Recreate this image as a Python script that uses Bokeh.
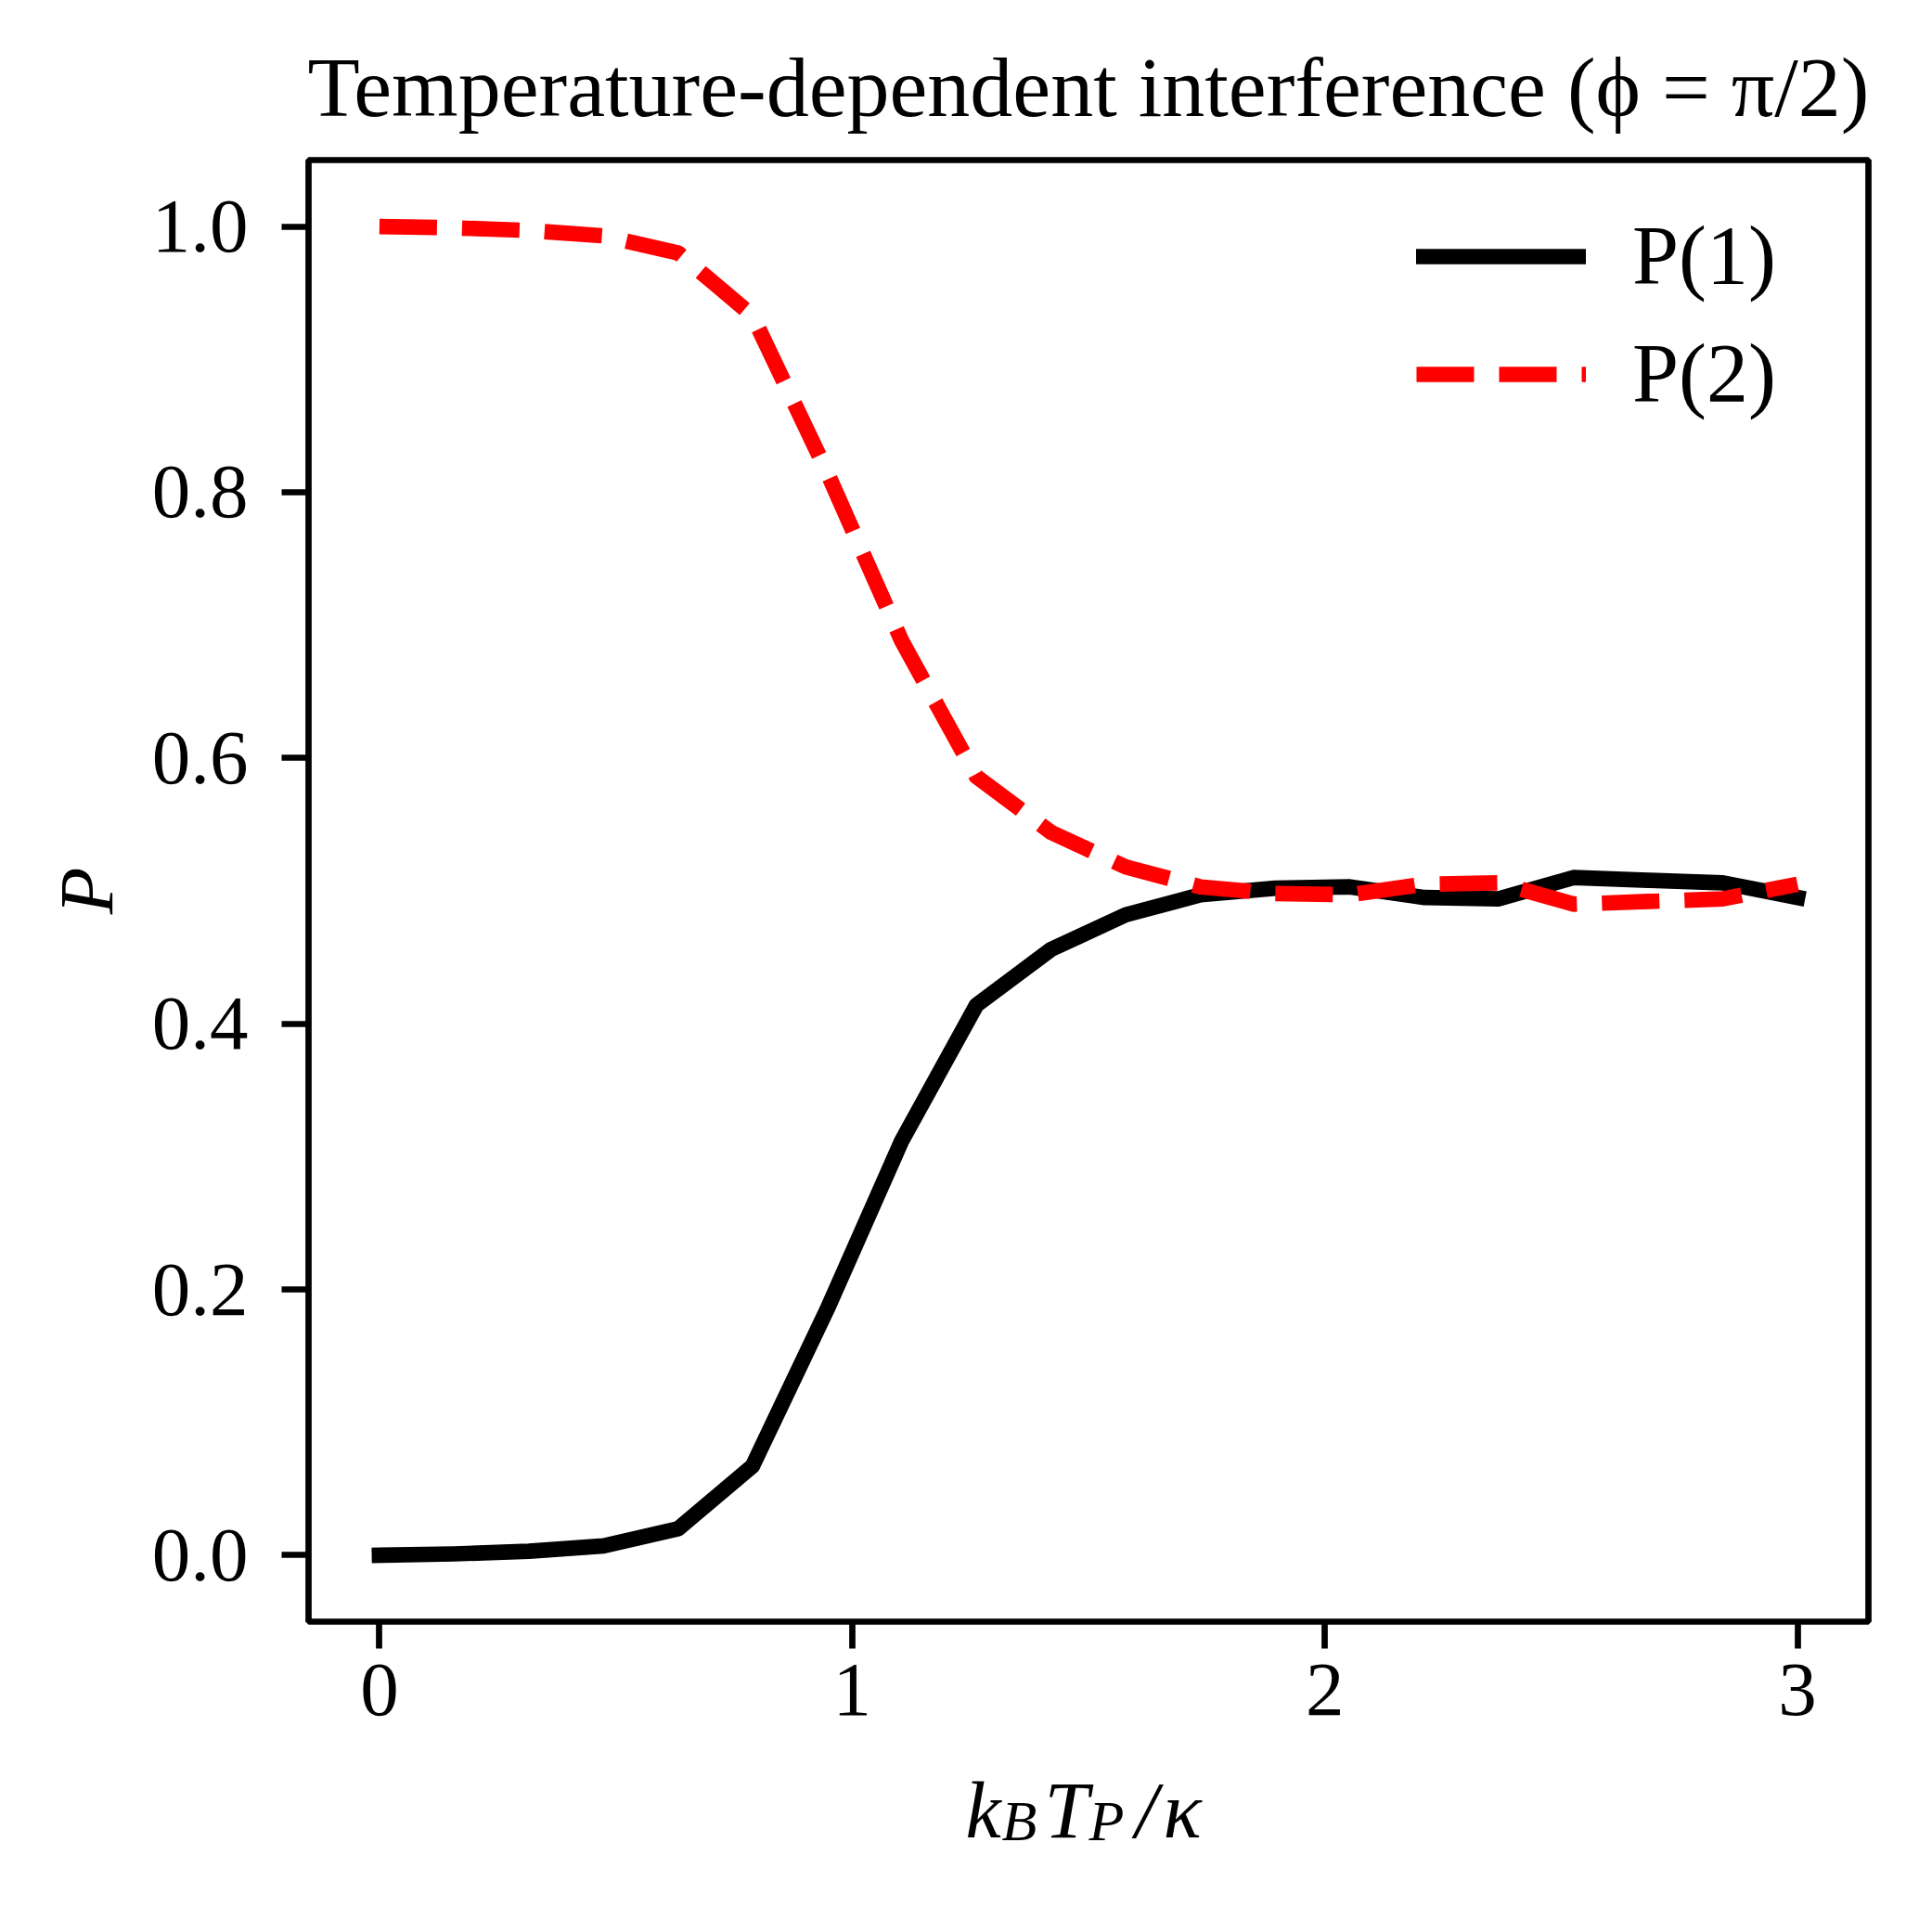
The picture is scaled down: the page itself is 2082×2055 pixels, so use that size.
from bokeh.plotting import figure
from bokeh.models import FixedTicker, PrintfTickFormatter, Range1d
from bokeh.layouts import column
from bokeh.core.properties import value
from bokeh.embed import file_html
from bokeh.resources import INLINE

# ---- data ----
x_vals = [0.000, 0.158, 0.316, 0.474, 0.632, 0.789, 0.947, 1.105, 1.263, 1.421,
          1.579, 1.737, 1.895, 2.053, 2.211, 2.368, 2.526, 2.684, 2.842, 3.000]
p1_vals = [0.000, 0.001, 0.003, 0.007, 0.020, 0.067, 0.185, 0.312, 0.414, 0.456,
           0.482, 0.497, 0.502, 0.503, 0.495, 0.494, 0.510, 0.508, 0.506, 0.495]
p2_vals = [1.000, 0.999, 0.997, 0.993, 0.980, 0.933, 0.815, 0.688, 0.586, 0.544,
           0.518, 0.503, 0.498, 0.497, 0.505, 0.506, 0.490, 0.492, 0.494, 0.505]
series_labels = ["P(1)", "P(2)"]
x_ticks = [0, 1, 2, 3]
y_ticks = [0.0, 0.2, 0.4, 0.6, 0.8, 1.0]
title_text = "Temperature-dependent interference (\u03d5 = \u03c0/2)"
y_label = "P"
# x-axis label k_B T_P / kappa, split into main-size and subscript pieces
xlab_main = ["k", "T", "/", "\u03ba"]
xlab_subs = ["B", "P"]

SERIF = "Liberation Serif"
FS = "83px"

W = 2066
H_MAIN = 1890
H_LAB = 149
F_LEFT, F_RIGHT, F_TOP, F_BOTTOM = 332, 2013, 172, 1747

p = figure(width=W, height=H_MAIN,
           x_range=Range1d(-0.15, 3.15), y_range=Range1d(-0.05, 1.05),
           output_backend="svg", toolbar_location=None,
           min_border_left=F_LEFT, min_border_right=W - F_RIGHT,
           min_border_top=F_TOP, min_border_bottom=H_MAIN - F_BOTTOM)

p.background_fill_color = "white"
p.border_fill_color = "white"
p.outline_line_color = "black"
p.outline_line_width = 6.7
p.xgrid.visible = False
p.ygrid.visible = False

p.line(x_vals, p1_vals, line_color="black", line_width=16.7,
       line_join="round", line_cap="square", legend_label=series_labels[0])
p.line(x_vals, p2_vals, line_color="#ff0000", line_width=16.7,
       line_dash="62 27", line_join="round", line_cap="butt",
       legend_label=series_labels[1])

# title
p.title.text = title_text
p.title.text_font = SERIF
p.title.text_font_size = "92px"
p.title.text_font_style = "normal"
p.title.text_color = "black"
p.title.align = "center"
p.title.standoff = 56

# axes
for ax in (p.xaxis[0], p.yaxis[0]):
    ax.axis_line_color = None
    ax.major_tick_line_color = "black"
    ax.major_tick_line_width = 6.7
    ax.major_tick_out = 29
    ax.major_tick_in = 0
    ax.minor_tick_line_color = None
    ax.major_label_text_font = SERIF
    ax.major_label_text_font_size = FS
    ax.major_label_text_color = "black"

p.xaxis.ticker = FixedTicker(ticks=x_ticks)
p.xaxis.formatter = PrintfTickFormatter(format="%d")
p.xaxis.major_label_standoff = 17

p.yaxis.ticker = FixedTicker(ticks=y_ticks)
p.yaxis.formatter = PrintfTickFormatter(format="%.1f")
p.yaxis.major_label_standoff = 36
p.yaxis.axis_label = y_label
p.yaxis.axis_label_text_font = SERIF
p.yaxis.axis_label_text_font_size = FS
p.yaxis.axis_label_text_font_style = "italic"
p.yaxis.axis_label_text_color = "black"
p.yaxis.axis_label_standoff = 22

# legend
lg = p.legend[0]
lg.location = (1194, 1293)
lg.border_line_color = None
lg.background_fill_alpha = 0
lg.label_text_font = SERIF
lg.label_text_font_size = "90px"
lg.label_text_color = "black"
lg.glyph_width = 183
lg.glyph_height = 100
lg.label_height = 100
lg.label_standoff = 50
lg.spacing = 24
lg.padding = 10
lg.margin = 0

# strip below holding the composed x-axis label; its frame is aligned with
# the main frame by the column layout, so x is expressed in page pixels
q = figure(width=W, height=H_LAB,
           x_range=Range1d(F_LEFT, F_RIGHT), y_range=Range1d(H_MAIN + H_LAB, H_MAIN),
           output_backend="svg", toolbar_location=None,
           x_axis_location=None, y_axis_location=None,
           min_border=0, outline_line_color=None)
q.title.visible = False
q.xgrid.visible = False
q.ygrid.visible = False
q.background_fill_color = "white"
q.border_fill_color = "white"

main_x = [1040, 1125, 1223, 1253]
sub_x = [1079, 1173]
q.text(x=main_x, y=[1950] * len(xlab_main), text=xlab_main,
       text_font=value(SERIF), text_font_size="86px", text_font_style="italic",
       text_color="black", text_align="left", text_baseline="alphabetic")
q.text(x=sub_x, y=[1961] * len(xlab_subs), text=xlab_subs,
       text_font=value(SERIF), text_font_size="62px", text_font_style="italic",
       text_color="black", text_align="left", text_baseline="alphabetic")

layout = column(p, q, spacing=0)
open("out.html", "w").write(file_html(layout, INLINE))
